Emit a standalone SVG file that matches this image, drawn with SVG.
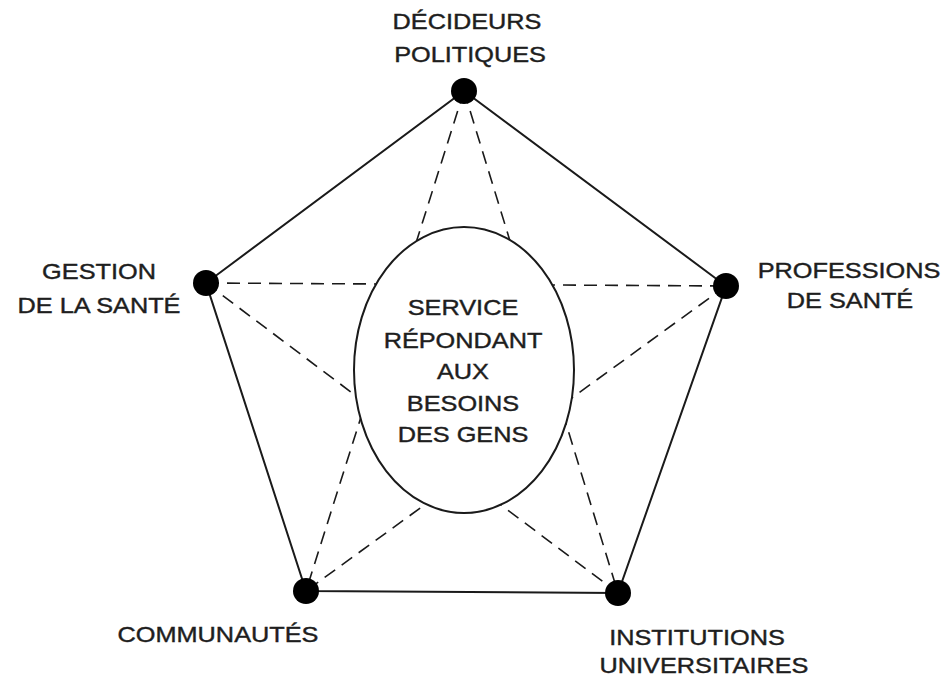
<svg xmlns="http://www.w3.org/2000/svg" width="946" height="683" viewBox="0 0 946 683">
<style>
.lbl{font-family:"Liberation Sans",Arial,sans-serif;font-size:22px;fill:#1e1e1e;stroke:#1e1e1e;stroke-width:0.4;text-anchor:middle}
.edge{stroke:#1a1a1a;stroke-width:2;fill:none}
.dash{stroke:#1a1a1a;stroke-width:1.6;fill:none;stroke-dasharray:13 8}
.node{fill:#000}
</style>
<rect width="946" height="683" fill="#fff"/>
<g id="connectors">
  <line class="dash" x1="464" y1="91" x2="306" y2="591"/>
  <line class="dash" x1="464" y1="91" x2="618" y2="593"/>
  <line class="dash" x1="206" y1="283" x2="726" y2="286"/>
  <line class="dash" x1="206" y1="283" x2="618" y2="593"/>
  <line class="dash" x1="726" y1="286" x2="306" y2="591"/>
  <polygon class="edge" points="464,91 726,286 618,593 306,591 206,283"/>
</g>
<g id="center">
  <ellipse cx="464" cy="370" rx="110" ry="143" fill="#fff" stroke="#1a1a1a" stroke-width="2"/>
  <text class="lbl" transform="translate(463,315) scale(1.15,1)">SERVICE</text>
  <text class="lbl" transform="translate(463,348) scale(1.15,1)">RÉPONDANT</text>
  <text class="lbl" transform="translate(463,379) scale(1.15,1)">AUX</text>
  <text class="lbl" transform="translate(463,411) scale(1.15,1)">BESOINS</text>
  <text class="lbl" transform="translate(463,442) scale(1.15,1)">DES GENS</text>
</g>
<g id="decideurs">
  <circle class="node" cx="464" cy="91" r="13"/>
  <text class="lbl" transform="translate(467,29) scale(1.15,1)">DÉCIDEURS</text>
  <text class="lbl" transform="translate(470,62) scale(1.15,1)">POLITIQUES</text>
</g>
<g id="gestion">
  <circle class="node" cx="206" cy="283" r="13"/>
  <text class="lbl" transform="translate(99,279) scale(1.15,1)">GESTION</text>
  <text class="lbl" transform="translate(99,313) scale(1.15,1)">DE LA SANTÉ</text>
</g>
<g id="professions">
  <circle class="node" cx="726" cy="286" r="13"/>
  <text class="lbl" transform="translate(849,278) scale(1.15,1)">PROFESSIONS</text>
  <text class="lbl" transform="translate(850,308) scale(1.15,1)">DE SANTÉ</text>
</g>
<g id="communautes">
  <circle class="node" cx="306" cy="591" r="13"/>
  <text class="lbl" transform="translate(218,642) scale(1.15,1)">COMMUNAUTÉS</text>
</g>
<g id="institutions">
  <circle class="node" cx="618" cy="593" r="13"/>
  <text class="lbl" transform="translate(697,645) scale(1.15,1)">INSTITUTIONS</text>
  <text class="lbl" transform="translate(704,673) scale(1.15,1)">UNIVERSITAIRES</text>
</g>
</svg>
